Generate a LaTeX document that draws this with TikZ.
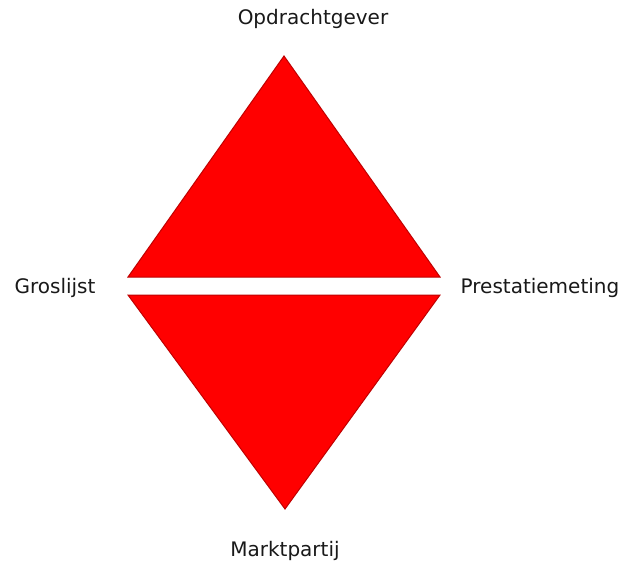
\documentclass[tikz,border=0pt]{standalone}
\usepackage{fontspec}
\setmainfont{DejaVu Sans}
\begin{document}
\begin{tikzpicture}[x=1pt,y=-1pt,
  tri/.style={fill=red,draw=red!75!black,line width=1pt,line join=miter},
  lbl/.style={font=\fontsize{20}{24}\selectfont,text=black!90,inner sep=0pt}]
\useasboundingbox (0,0) rectangle (625,565);
\fill[white] (0,0) rectangle (625,565);
\coordinate (top) at (284,56);
\coordinate (bot) at (285,509);
\draw[tri] (top) -- (440,277) -- (128,277) -- cycle;
\draw[tri] (128,295) -- (440,295) -- (bot) -- cycle;
\node[lbl] (opd) at (313,19) {Opdrachtgever};
\node[lbl] (gros) at (55,288) {Groslijst};
\node[lbl] (pres) at (540,288) {Prestatiemeting};
\node[lbl] (markt) at (285,551) {Marktpartij};
\end{tikzpicture}
\end{document}
